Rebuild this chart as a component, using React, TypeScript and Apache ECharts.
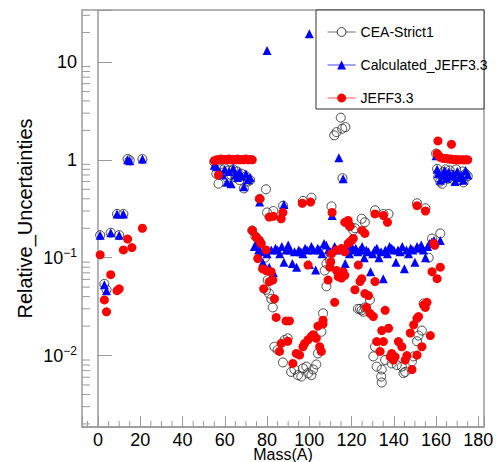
import React, { useEffect, useRef } from "react";
import * as echarts from "echarts";

// ---- Data (A = mass number, value = relative uncertainty) ----
const ceaLight = [[1,0.17],[3,0.054],[4,0.047],[6,0.18],[9,0.28],[10,0.17],[12,0.28],[14,1.02],[15,0.99],[21,1.02]];
const ceaPeakLight = [[55,0.95],[56,0.72],[57,0.57],[58,0.8],[59,0.74],[60,0.82],[61,0.66],[62,0.78],[63,0.7],[64,0.8],[65,0.66],[66,0.76],[67,0.62],[68,0.72],[69,0.51],[70,0.68],[71,0.6],[72,0.62],[76.5,0.4],[79.5,0.5],[80,0.29],[83,0.3],[87.6,0.34],[97,0.38],[101,0.41],[110.5,0.335],[131.1,0.305],[135.1,0.28],[137.5,0.28],[151,0.36],[155,0.32]];
const ceaValley = [[73,0.19],[74.5,0.165],[76,0.15],[77,0.14],[78,0.12],[79,0.1],[80.3,0.059],[79.5,0.047],[81,0.043],[82,0.038],[82.7,0.031],[83.5,0.0123],[85,0.0114],[87.5,0.0085],[88.3,0.0144],[89.8,0.015],[91.4,0.0068],[93,0.0072],[94.6,0.0063],[96.2,0.0061],[97,0.0074],[98.6,0.0077],[99.4,0.0066],[101,0.0063],[101.8,0.0072],[103.3,0.0081],[104.1,0.0105],[105.7,0.0175],[106.5,0.027],[107.3,0.074],[108.1,0.051],[108.1,0.087],[109.7,0.094],[111.8,1.78],[112.9,1.92],[114.9,2.7],[115.6,2.08],[117.1,2.16],[115.7,0.65],[119.2,0.21],[120.8,0.19],[121.6,0.2],[124.8,0.25],[126.3,0.23],[123,0.03],[124,0.03],[124.8,0.029],[125.6,0.028],[126.3,0.031],[128.7,0.037],[130.3,0.0098],[131.1,0.0123],[131.9,0.0077],[134,0.0061],[134.3,0.0072],[134.3,0.0053],[135.9,0.009],[139,0.0083],[141.4,0.008],[143.8,0.0077],[144.6,0.0066],[145.4,0.0068],[148.6,0.0087],[149.4,0.0098],[151,0.014],[151.7,0.016],[153.3,0.018],[154.1,0.034],[156.5,0.1],[158.1,0.157],[162,0.177]];
const ceaHeavy = [[160,1.16],[160.5,0.81],[161,0.66],[162,0.6],[162.9,0.57],[163.5,0.75],[164.5,0.8],[165.5,0.64],[166.5,0.78],[167.5,0.7],[168.5,0.62],[169.5,0.8],[170.5,0.7],[171.5,0.62],[172.5,0.76],[173,0.59],[174,0.72],[175,0.68]];

const calcLight = [[1,0.17],[3,0.053],[4,0.046],[6,0.18],[9,0.28],[10,0.17],[12,0.28],[14,1.0],[15,0.98],[21,1.02]];
const calcPeakLight = [[55,0.88],[56,0.85],[57,0.78],[58,0.72],[59,0.7],[60,0.8],[61,0.59],[62,0.76],[63,0.57],[64,0.82],[65,0.7],[66,0.66],[67,0.75],[68,0.68],[69,0.53],[70,0.72],[71,0.63],[72,0.66],[76.5,0.37],[88,0.35],[80,13.1],[100,19.4],[110.8,0.27],[114,1.05],[116,0.64]];
const calcBand = [[74,0.13],[75,0.14],[76,0.12],[77,0.115],[78,0.09],[79,0.12],[80,0.11],[81,0.08],[82,0.12],[83,0.07],[84,0.125],[85,0.12],[86,0.11],[87,0.13],[88,0.09],[89,0.12],[90,0.135],[91,0.12],[92,0.087],[93,0.115],[94,0.08],[95,0.12],[96,0.115],[97,0.11],[98,0.125],[99,0.12],[100,0.085],[101,0.13],[102,0.12],[103,0.075],[104,0.125],[105,0.12],[106,0.11],[107,0.14],[108,0.135],[109,0.12],[110,0.115],[112,0.13],[113,0.12],[115,0.125],[117,0.087],[118,0.12],[119,0.11],[120,0.13],[121,0.12],[122,0.125],[123,0.115],[124,0.12],[125,0.13],[126,0.1],[127,0.12],[128,0.115],[129,0.072],[130,0.11],[131,0.12],[132,0.125],[133,0.1],[134,0.115],[135,0.061],[136,0.12],[137,0.11],[138,0.13],[139,0.125],[140,0.12],[141,0.09],[142,0.12],[143,0.115],[144,0.13],[145,0.077],[146,0.12],[147,0.11],[148,0.125],[149,0.12],[150,0.09],[151,0.13],[152,0.125],[153,0.135],[154,0.12],[155,0.1],[156,0.13],[157,0.14],[158,0.145]];
const calcHeavy = [[159,0.15],[160,1.1],[160.5,0.8],[161,0.72],[162,0.62],[162,0.15],[163,0.7],[164,0.78],[165,0.65],[166,0.75],[167,0.68],[168,0.72],[169,0.6],[170,0.76],[171,0.66],[172,0.7],[173,0.62],[174,0.78],[175,0.7]];

const jeffLight = [[1,0.107],[3,0.037],[4,0.028],[6,0.067],[9,0.046],[10,0.048],[12,0.12],[14,0.155],[16,0.127],[21,0.2]];
const jeffPeakLight = [[55,0.98],[56,1.0],[57,0.7],[57,1.0],[58,1.02],[59,1.0],[60,1.01],[61,1.0],[62,1.02],[63,1.0],[64,1.01],[65,1.0],[66,1.02],[67,1.0],[68,1.01],[69,1.0],[70,1.02],[71,1.0],[72,1.01],[73,1.0],[76.5,0.4],[81,0.26],[83,0.265],[86.7,0.25],[87.5,0.29],[96.7,0.36],[100.6,0.37],[110.8,0.29],[116.8,0.23],[118.4,0.24],[119.2,0.21],[125,0.19],[126.3,0.177],[131.1,0.28],[135.1,0.27],[137,0.23],[151,0.34],[155,0.3]];
const jeffValley = [[73,0.19],[74.8,0.163],[76.3,0.151],[77.1,0.14],[75.6,0.098],[77.9,0.077],[79.5,0.12],[79.5,0.074],[81.9,0.072],[82.7,0.059],[81.1,0.057],[78.4,0.048],[83.5,0.038],[84.3,0.0245],[89,0.0226],[90.6,0.0226],[85.9,0.011],[86.7,0.0133],[89.8,0.014],[92.2,0.0083],[93.8,0.0105],[95.4,0.0101],[97,0.0123],[97.8,0.0133],[99.4,0.0145],[101,0.0157],[101.8,0.0163],[103.3,0.015],[104.9,0.0123],[105.7,0.011],[104.1,0.02],[106.5,0.021],[106.5,0.023],[99.4,0.084],[108.9,0.059],[109.7,0.08],[110.1,0.09],[112,0.035],[112.9,0.074],[114.4,0.066],[115.2,0.062],[113.7,0.064],[110.5,0.11],[112.9,0.12],[115.2,0.124],[116.8,0.115],[118.4,0.14],[116,0.072],[116.8,0.066],[119.2,0.145],[120,0.15],[120.8,0.157],[123.2,0.084],[124,0.057],[124.8,0.061],[121.6,0.047],[126.3,0.043],[128,0.041],[131.1,0.057],[127.1,0.031],[128.7,0.027],[130.3,0.025],[135.9,0.029],[134.3,0.018],[137.5,0.019],[131.9,0.0139],[135.1,0.0139],[133.5,0.011],[138.3,0.0097],[139,0.0105],[139.8,0.009],[140.6,0.0097],[142.2,0.0139],[143.8,0.0123],[145.4,0.009],[146.2,0.01],[148.6,0.0072],[151,0.0101],[153.3,0.0123],[147.8,0.017],[149.4,0.0206],[151,0.024],[151.7,0.025],[154.1,0.033],[154.9,0.031],[155.7,0.035],[157.3,0.016],[158.1,0.072],[160.5,0.061],[162,0.08],[158.9,0.14],[159.4,0.134]];
const jeffHeavy = [[160.9,1.56],[167.3,1.44],[160.5,1.16],[161.3,1.1],[162,1.06],[163,1.04],[164,1.03],[165,1.03],[166,1.02],[167,1.02],[168,1.01],[169,1.01],[170,1.0],[171,1.0],[172,1.0],[173,1.0],[174,1.0],[175,1.0]];

const seriesNames = ["CEA-Strict1", "Calculated_JEFF3.3", "JEFF3.3"];
const xMin = -7.6;
const xMax = 182.7;
const yMin = 0.00186;
const yMax = 34;
const xMinorTicks = [-5,5,10,15,25,30,35,45,50,55,65,70,75,85,90,95,105,110,115,125,130,135,145,150,155,165,170,175];
const yMinorTicks = [0.002,0.003,0.004,0.005,0.006,0.007,0.008,0.009,0.02,0.03,0.04,0.05,0.06,0.07,0.08,0.09,0.2,0.3,0.4,0.5,0.6,0.7,0.8,0.9,2,3,4,5,6,7,8,9,20,30];

const FONT = "'Liberation Sans', Arial, Helvetica, sans-serif";
const FRAME = "#9a9a9a";

export default function App() {
  const ref = useRef<HTMLDivElement>(null);
  useEffect(() => {
    if (!ref.current) return;
    const chart = echarts.init(ref.current, undefined, { renderer: "svg" });
    const option: any = {
      animation: false,
      backgroundColor: "#fff",
      textStyle: { fontFamily: FONT },
      grid: { left: 82, right: 16, top: 10, bottom: 35, show: true, borderColor: FRAME, borderWidth: 1.5, backgroundColor: "transparent", outerBoundsMode: "none", containLabel: false },
      xAxis: {
        type: "value", min: xMin, max: xMax, splitNumber: 10,
        name: "Mass(A)", nameLocation: "middle", nameGap: 20, nameMoveOverlap: false,
        nameTextStyle: { fontSize: 16, color: "#000", fontFamily: FONT, lineHeight: 14 },
        axisLine: { show: true, lineStyle: { color: FRAME, width: 1.5 } },
        axisTick: { show: true, inside: true, length: 11, lineStyle: { color: FRAME, width: 1 } },
        splitLine: { show: false },
        axisLabel: {
          margin: 6, fontSize: 18, lineHeight: 14, color: "#000", fontFamily: FONT,
          formatter: (v: number) => (Math.abs(v - Math.round(v / 20) * 20) < 1e-6 ? String(Math.round(v)) : ""),
        },
      },
      yAxis: {
        type: "log", logBase: 10, min: yMin, max: yMax,
        name: "Relative_Uncertainties", nameLocation: "middle", nameGap: 47, nameMoveOverlap: false,
        nameTextStyle: { fontSize: 20, color: "#000", fontFamily: FONT },
        axisLine: { show: true, lineStyle: { color: FRAME, width: 1.5 } },
        axisTick: { show: true, inside: true, length: 14, lineStyle: { color: FRAME, width: 1 } },
        splitLine: { show: false },
        axisLabel: {
          margin: 5, color: "#000", fontFamily: FONT, fontSize: 18,
          formatter: (v: number) => {
            const e = Math.log10(v);
            const r = Math.round(e);
            if (Math.abs(e - r) > 1e-6) return "";
            if (r >= 0) return String(Math.round(Math.pow(10, r)));
            return "{b|10}{s|\u2212" + Math.abs(r) + "}";
          },
          rich: {
            b: { fontSize: 18, fontFamily: FONT, color: "#000" },
            s: { fontSize: 12, fontFamily: FONT, color: "#000", padding: [0, 0, 9, 0] },
          },
        },
      },
      legend: {
        orient: "vertical", left: 322, top: 20, itemWidth: 28, itemHeight: 11, itemGap: 19,
        textStyle: { fontSize: 14, color: "#000", fontFamily: FONT, lineHeight: 14 },
        lineStyle: { opacity: 1, width: 1.2 },
        data: [
          { name: seriesNames[0], itemStyle: { color: "#fff", borderColor: "#333", borderWidth: 1 } },
          { name: seriesNames[1] },
          { name: seriesNames[2] },
        ],
      },
      graphic: [
        { type: "rect", z: 0, shape: { x: 316, y: 10, width: 168, height: 99 }, style: { fill: "#fff", stroke: "#333", lineWidth: 1 } },
      ],
      series: [
        {
          type: "custom", silent: true, z: 1,
          data: xMinorTicks.map((v) => [v, 1]),
          renderItem: (params: any, api: any) => {
            const cs = params.coordSys;
            const p = api.coord([api.value(0), 1]);
            return { type: "line", shape: { x1: p[0], y1: cs.y + cs.height, x2: p[0], y2: cs.y + cs.height - 6 }, style: { stroke: FRAME, lineWidth: 1 } };
          },
        },
        {
          type: "custom", silent: true, z: 1,
          data: yMinorTicks.map((v) => [0, v]),
          renderItem: (params: any, api: any) => {
            const cs = params.coordSys;
            const p = api.coord([0, api.value(1)]);
            return { type: "line", shape: { x1: cs.x, y1: p[1], x2: cs.x + 8, y2: p[1] }, style: { stroke: FRAME, lineWidth: 1 } };
          },
        },
        {
          name: seriesNames[0], type: "line", z: 3,
          data: [...ceaLight, ...ceaPeakLight, ...ceaValley, ...ceaHeavy],
          symbol: "circle", symbolSize: 9,
          lineStyle: { color: "#888", width: 0, opacity: 0 },
          itemStyle: { color: "rgba(0,0,0,0)", borderColor: "#333", borderWidth: 0.9 },
          emphasis: { disabled: true },
        },
        {
          name: seriesNames[1], type: "line", z: 4,
          data: [...calcLight, ...calcPeakLight, ...calcBand, ...calcHeavy],
          symbol: "triangle", symbolSize: 9,
          lineStyle: { color: "#6060ff", width: 0, opacity: 0 },
          itemStyle: { color: "#0000ff" },
          emphasis: { disabled: true },
        },
        {
          name: seriesNames[2], type: "line", z: 5,
          data: [...jeffLight, ...jeffPeakLight, ...jeffValley, ...jeffHeavy],
          symbol: "circle", symbolSize: 9,
          lineStyle: { color: "#ff7070", width: 0, opacity: 0 },
          itemStyle: { color: "#ff0000" },
          emphasis: { disabled: true },
        },
      ],
    };
    chart.setOption(option);
    return () => chart.dispose();
  }, []);
  return <div ref={ref} style={{ position: "fixed", left: 0, top: 0, width: 500, height: 462 }} />;
}
